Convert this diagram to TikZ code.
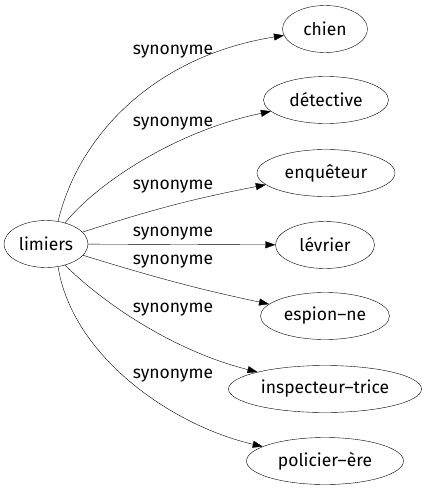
\documentclass[tikz,border=0pt]{standalone}
\usepackage{fontspec}
\setmainfont{Fira Sans}
\usetikzlibrary{shapes.geometric,arrows.meta}

\begin{document}
\begin{tikzpicture}[x=1pt,y=-1pt,
  mot/.style={draw,ellipse,inner sep=0pt,minimum height=47pt,font=\fontsize{17.5}{20}\selectfont},
  lien/.style={font=\fontsize{17.5}{20}\selectfont},
  syn/.style={-{Triangle[length=10pt,width=7pt]}}]
\useasboundingbox (0,0) rectangle (426,491);
\node[mot,minimum width=84pt] (limiers) at (46,244) {limiers};
\node[mot,minimum width=85pt] (chien) at (325,29) {chien};
\node[mot,minimum width=125pt] (detective) at (326,100) {détective};
\node[mot,minimum width=138pt] (enqueteur) at (326,173) {enquêteur};
\node[mot,minimum width=99pt] (levrier) at (325,245) {lévrier};
\node[mot,minimum width=129pt] (espion) at (325,316) {espion–ne};
\node[mot,minimum width=193pt] (inspecteur) at (325,389) {inspecteur–trice};
\node[mot,minimum width=157pt] (policier) at (325,461) {policier–ère};
% etiquettes
\node[lien] (s1) at (173,52) {synonyme};
\node[lien] (s2) at (173,124) {synonyme};
\node[lien] (s3) at (173,187) {synonyme};
\node[lien] (s4) at (173,234) {synonyme};
\node[lien] (s5) at (173,262) {synonyme};
\node[lien] (s6) at (173,310) {synonyme};
\node[lien] (s7) at (173,376) {synonyme};
% aretes
\draw[syn] (limiers.62) .. controls (80,130) and (160,55) .. (chien);
\draw[syn] (limiers.48) .. controls (100,180) and (180,130) .. (detective);
\draw[syn] (limiers) to[out=18,in=191] (enqueteur);
\draw[syn] (limiers) -- (levrier);
\draw[syn] (limiers) to[out=-17,in=168] (espion);
\draw[syn] (limiers.-48) .. controls (100,300) and (170,350) .. (inspecteur);
\draw[syn] (limiers.-62) .. controls (72,355) and (170,425) .. (policier);
\end{tikzpicture}
\end{document}
